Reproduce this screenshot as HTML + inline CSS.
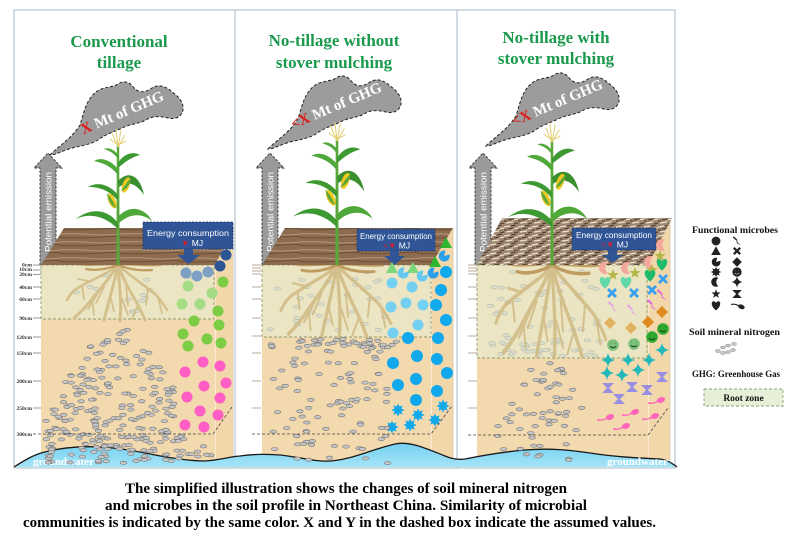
<!DOCTYPE html>
<html><head><meta charset="utf-8"><style>
html,body{margin:0;padding:0;background:#fff;}
svg{display:block;}
.ttl{font-family:"Liberation Serif",serif;font-weight:bold;font-size:17px;fill:#1b9a4d;text-anchor:middle;}
.ghg{font-family:"Liberation Serif",serif;font-weight:bold;font-size:15px;fill:#fff;}
.pe{font-family:"Liberation Sans",sans-serif;font-size:9px;fill:#fff;}
.en{font-family:"Liberation Sans",sans-serif;font-size:8.5px;fill:#fff;}
.dl{font-family:"Liberation Serif",serif;font-weight:bold;font-size:5.6px;fill:#333;text-anchor:end;}
.lg{font-family:"Liberation Serif",serif;font-weight:bold;font-size:9.5px;fill:#111;}
.cap{font-family:"Liberation Serif",serif;font-weight:bold;font-size:14.5px;fill:#000;}
.gw{font-family:"Liberation Serif",serif;font-weight:bold;font-size:11px;fill:#fff;}
</style></head><body>
<svg width="800" height="540" viewBox="0 0 800 540">
<defs>
<pattern id="wood" width="60" height="8" patternUnits="userSpaceOnUse">
<rect width="60" height="8" fill="#8c6b4e"/>
<path d="M0,2 Q15,1 30,2.5 T60,2" stroke="#ad8f70" stroke-width="1.2" fill="none"/>
<path d="M0,5.5 Q20,6.5 40,5 T60,5.5" stroke="#6c4f38" stroke-width="1" fill="none"/>
</pattern>
<pattern id="mulch" width="14" height="9" patternUnits="userSpaceOnUse">
<rect width="14" height="9" fill="#9d8772"/>
<path d="M0,2 L6,1 M8,4 L14,3 M2,7 L9,6" stroke="#eee2cc" stroke-width="1.2"/>
<path d="M4,4 L10,3 M0,5 L3,5 M10,8 L14,7 M7,1 L12,0" stroke="#4e3828" stroke-width="1"/>
</pattern>
<linearGradient id="water" x1="0" y1="0" x2="0" y2="1">
<stop offset="0" stop-color="#74d1f1"/><stop offset="1" stop-color="#a5e4f7"/>
</linearGradient>
<g id="cloud">
<path d="M50,155 C60,145 72,138 80,125 C84,112 86,100 96,92 C104,86 112,88 118,84 C124,80 130,82 134,88 C140,94 146,92 152,88 C158,84 166,86 172,92 C178,96 184,102 183,110 C182,116 176,120 168,118 C160,116 152,116 146,120 C138,124 130,124 122,128 C114,132 106,134 98,140 C88,146 76,146 66,150 C60,152 55,155 50,155 Z" fill="#9c9c9c" stroke="#222" stroke-width="1" stroke-dasharray="3 2"/>
</g>
<g id="parrow">
<polygon points="40,265 40,168 34,168 48,153 62,168 56,168 56,265" fill="#9a9a9a" stroke="#333" stroke-width="0.9" stroke-dasharray="2.5 1.5"/>
</g>
<g id="corn">
<path d="M-1.6,0 L-1.2,-120 L1.2,-120 L1.6,0Z" fill="#5aa83c"/>
<path d="M0,-118 L-6,-132 M0,-118 L-2,-136 M0,-118 L3,-135 M0,-118 L7,-130 M0,-120 L-8,-126 M0,-120 L8,-124" stroke="#e2cf74" stroke-width="1" fill="none"/>
<path d="M0,-42 C-12,-58 -30,-56 -42,-46 C-30,-52 -14,-50 0,-36 Z" fill="#3d9a32"/>
<path d="M0,-48 C12,-62 28,-56 34,-44 C24,-52 12,-52 1,-42 Z" fill="#4fa83a"/>
<path d="M0,-70 C-8,-80 -20,-84 -30,-78 C-20,-78 -10,-76 0,-64 Z" fill="#3d9a32"/>
<path d="M0,-84 C10,-95 22,-90 26,-70 C18,-82 10,-84 1,-78 Z" fill="#3a8f2e"/>
<path d="M0,-96 C-8,-106 -18,-108 -24,-104 C-16,-102 -8,-100 0,-90 Z" fill="#4fa83a"/>
<path d="M0,-102 C6,-112 16,-114 22,-110 C14,-108 8,-104 0,-97 Z" fill="#3d9a32"/>
<path d="M0,-110 C-4,-116 -10,-118 -14,-116 C-8,-114 -4,-112 0,-106Z" fill="#4fa83a"/>
<ellipse cx="-6" cy="-64" rx="3.5" ry="8" transform="rotate(-25 -6 -64)" fill="#f2c81e"/>
<path d="M-2,-57 C-8,-60 -10,-66 -11,-72 C-6,-66 -4,-62 -2,-57Z" fill="#5aa83c"/>
<ellipse cx="8" cy="-80" rx="3.5" ry="8" transform="rotate(20 8 -80)" fill="#f2c81e"/>
<path d="M3,-74 C9,-76 12,-80 13,-87 C8,-82 6,-78 3,-74Z" fill="#5aa83c"/>
</g>
<g id="roots" fill="none" stroke-linecap="round">
<g stroke="#d0ba84">
<path d="M0,0 C-6,10 -16,22 -26,34 C-32,42 -38,48 -44,53" stroke-width="3"/>
<path d="M0,0 C-3,15 -8,32 -14,55" stroke-width="3"/>
<path d="M0,0 C1,18 4,35 2,56" stroke-width="3"/>
<path d="M0,0 C5,14 12,26 20,40 C23,46 25,50 27,55" stroke-width="3"/>
<path d="M0,0 C8,8 24,18 38,30 C42,34 46,40 49,45" stroke-width="2.6"/>
<path d="M0,0 C-8,8 -26,14 -42,24 C-46,27 -49,31 -51,35" stroke-width="2.6"/>
<path d="M-26,34 L-24,50 M-14,22 L-22,38 M-8,30 L-4,46 M8,22 L10,40 M20,40 L14,54 M30,24 L28,40 M-36,20 L-34,34 M40,32 L44,48 M-20,28 L-30,44 M4,34 L10,50 M15,12 L24,20 M-30,16 L-40,14" stroke-width="1.8"/>
</g>
<g stroke="#b8914f" stroke-width="2.2">
<path d="M0,-1 C-14,-1 -28,1 -40,-1 M0,-1 C14,-1 28,1 42,0 M0,0 C-10,4 -22,6 -32,4 M0,0 C10,4 22,6 34,5"/>
</g>
</g>
<circle id="m-circ" r="5.5" fill="currentColor"/>
<circle id="m-circ6" r="6" fill="currentColor"/>
<polygon id="m-tri" points="0,-6 6,5 -6,5" fill="currentColor"/>
<path id="m-pac" d="M0,0 L5.5,-1.5 A5.5,5.5 0 1 1 1.5,-5.3 Z" fill="currentColor"/>
<polygon id="m-splat" points="6.5,0 3.51,1.45 4.6,4.6 1.45,3.51 0,6.5 -1.45,3.51 -4.6,4.6 -3.51,1.45 -6.5,0 -3.51,-1.45 -4.6,-4.6 -1.45,-3.51 0,-6.5 1.45,-3.51 4.6,-4.6 3.51,-1.45" fill="currentColor"/>
<path id="m-cres" d="M3,-5.2 A6,6 0 1 0 3,5.2 A6.5,6.5 0 0 1 3,-5.2 Z" fill="currentColor"/>
<polygon id="m-star" points="0,-6 1.47,-2.02 5.71,-1.85 2.38,0.77 3.53,4.85 0,2.5 -3.53,4.85 -2.38,0.77 -5.71,-1.85 -1.47,-2.02" fill="currentColor"/>
<path id="m-heart" d="M0,5.5 C-7,0 -6,-6 -3,-6 C-1.5,-6 0,-4.5 0,-3.5 C0,-4.5 1.5,-6 3,-6 C6,-6 7,0 0,5.5 Z" fill="currentColor"/>
<polygon id="m-bolt" points="-4,-6 1,-1 -1,0 5,6 -1,2 1,1 -5,-4" fill="currentColor"/>
<path id="m-cross" d="M-5,-3 L-3,-5 L0,-2 L3,-5 L5,-3 L2,0 L5,3 L3,5 L0,2 L-3,5 L-5,3 L-2,0 Z" fill="currentColor"/>
<polygon id="m-dia" points="0,-6 6,0 0,6 -6,0" fill="currentColor"/>
<g id="m-smile"><circle r="5.8" fill="currentColor"/><path d="M-2.5,-1.8 h0.4 M2.1,-1.8 h0.4 M-3,1.3 Q0,4 3,1.3" stroke="#1e4e1e" stroke-width="1.1" fill="none"/></g>
<path id="m-4star" d="M0,-7 Q1,-1 7,0 Q1,1 0,7 Q-1,1 -7,0 Q-1,-1 0,-7 Z" fill="currentColor"/>
<polygon id="m-hour" points="-6,-5 6,-5 1,0 6,5 -6,5 -1,0" fill="currentColor"/>
<g id="m-tad"><ellipse cx="3" cy="-1" rx="4.2" ry="2.8" transform="rotate(-20 3 -1)" fill="currentColor"/><path d="M0,0 Q-4,3 -10,2" stroke="currentColor" stroke-width="1.4" fill="none"/></g>
</defs>

<!-- frames -->
<rect x="14" y="10" width="221" height="458" fill="#fff" stroke="#a7b7c7" stroke-width="1"/>
<rect x="235" y="10" width="222" height="458" fill="#fff" stroke="#a7b7c7" stroke-width="1"/>
<rect x="457" y="10" width="218" height="458" fill="#fff" stroke="#a7b7c7" stroke-width="1"/>

<!-- titles -->
<text class="ttl" x="119" y="47">Conventional</text>
<text class="ttl" x="119" y="68">tillage</text>
<text class="ttl" x="334" y="46">No-tillage without</text>
<text class="ttl" x="334" y="68">stover mulching</text>
<text class="ttl" x="556" y="43">No-tillage with</text>
<text class="ttl" x="556" y="64">stover mulching</text>

<!-- clouds -->
<use href="#cloud"/>
<use href="#cloud" transform="translate(218,-6)"/>
<use href="#cloud" transform="translate(436,-9)"/>
<text class="ghg" transform="translate(124,117) rotate(-23)" text-anchor="middle"><tspan fill="#e01818">X</tspan> Mt of GHG</text>
<text class="ghg" transform="translate(338,110) rotate(-23)" text-anchor="middle"><tspan fill="#e01818">&lt;X</tspan> Mt of GHG</text>
<text class="ghg" transform="translate(559,107) rotate(-23)" text-anchor="middle"><tspan fill="#e01818">&lt;X</tspan> Mt of GHG</text>

<!-- emission arrows -->
<use href="#parrow"/>
<use href="#parrow" transform="translate(222,0)"/>
<use href="#parrow" transform="translate(435,0)"/>
<text class="pe" transform="translate(51.5,212) rotate(-90)" text-anchor="middle" textLength="80" lengthAdjust="spacingAndGlyphs">Potential emission</text>
<text class="pe" transform="translate(273.5,212) rotate(-90)" text-anchor="middle" textLength="80" lengthAdjust="spacingAndGlyphs">Potential emission</text>
<text class="pe" transform="translate(486.5,212) rotate(-90)" text-anchor="middle" textLength="80" lengthAdjust="spacingAndGlyphs">Potential emission</text>

<!-- soil side faces -->
<polygon points="215,265 233,230 233,462 215,462" fill="#f2d7aa"/>
<polygon points="431,265 453,228 453,460 431,460" fill="#f2d7aa"/>
<polygon points="648,265 670,220 670,460 648,460" fill="#f2d7aa"/>
<line x1="233" y1="230" x2="233" y2="462" stroke="#d8c6a8" stroke-width="0.8"/>
<line x1="453" y1="228" x2="453" y2="460" stroke="#d8c6a8" stroke-width="0.8"/>
<line x1="670" y1="220" x2="670" y2="460" stroke="#d8c6a8" stroke-width="0.8"/>
<!-- front faces -->
<rect x="41" y="265" width="174" height="200" fill="#f3d9ae"/>
<rect x="262" y="265" width="169" height="200" fill="#f3d9ae"/>
<rect x="477" y="265" width="171" height="200" fill="#f3d9ae"/>
<line x1="215.5" y1="265" x2="215.5" y2="462" stroke="#fbead0" stroke-width="1"/>
<line x1="431.5" y1="265" x2="431.5" y2="460" stroke="#fbead0" stroke-width="1"/>
<line x1="648.5" y1="265" x2="648.5" y2="460" stroke="#fbead0" stroke-width="1"/>

<g id="nlo"></g>

<!-- root zones -->
<g fill="#e6ecd0" fill-opacity="0.62" stroke="#8d9c6e" stroke-width="0.9" stroke-dasharray="3 2">
<rect x="41" y="265" width="173" height="54"/>
<rect x="262" y="265" width="169" height="72"/>
<rect x="477" y="265" width="170" height="93"/>
</g>

<!-- roots -->
<g opacity="0.85">
<use href="#roots" transform="translate(118,265)"/>
<use href="#roots" transform="translate(337,265) scale(1.1,1.3)"/>
<use href="#roots" transform="translate(552,265) scale(1.1,1.65)"/>
</g>

<!-- slabs -->
<polygon points="41,265 64,228 234,228 215,265" fill="url(#wood)"/>
<polygon points="262,265 285,228 453,228 431,265" fill="url(#wood)"/>
<polygon points="477,265 502,218 672,218 648,265" fill="url(#mulch)"/>

<!-- plants -->
<use href="#corn" transform="translate(118,265)"/>
<use href="#corn" transform="translate(337,265) scale(1.05)"/>
<use href="#corn" transform="translate(552,265) scale(1.04)"/>

<!-- energy boxes -->
<g fill="#2f5597" stroke="#1c3566" stroke-width="0.8" stroke-dasharray="2 1.5">
<rect x="143" y="222" width="90" height="27"/>
<rect x="357" y="229" width="78" height="22"/>
<rect x="572" y="228" width="84" height="22"/>
</g>
<g fill="#2f5597">
<path d="M184,249 L193,249 L193,255 L200,255 L188.5,264 L177,255 L184,255Z"/>
<path d="M390,251 L399,251 L399,256 L405,256 L394.5,265 L384,256 L390,256Z"/>
<path d="M608,250 L617,250 L617,255 L623,255 L612.5,263 L602,255 L608,255Z"/>
</g>
<text class="en" x="188" y="236" text-anchor="middle" textLength="82" lengthAdjust="spacingAndGlyphs">Energy consumption</text>
<text class="en" x="181" y="246"><tspan fill="#d42030">▼</tspan> MJ</text>
<text class="en" x="396" y="239" text-anchor="middle" textLength="72" lengthAdjust="spacingAndGlyphs">Energy consumption</text>
<text class="en" x="383" y="248.5"><tspan fill="#d42030">&lt;▼</tspan> MJ</text>
<text class="en" x="614" y="238" text-anchor="middle" textLength="76" lengthAdjust="spacingAndGlyphs">Energy consumption</text>
<text class="en" x="601" y="247.5"><tspan fill="#d42030">&lt;▼</tspan> MJ</text>

<!-- depth ticks panel 1 -->
<g stroke="#777" stroke-width="0.7">
<path d="M33,265H41 M33,270H41 M33,274.5H41 M33,287H41 M33,299H41 M33,318H41 M33,337H41 M33,353H41 M33,381H41 M33,408H41"/>
</g>
<g class="dl">
<text x="32" y="266.5" class="dl">0cm</text>
<text x="32" y="271.2" class="dl">10cm</text>
<text x="32" y="276" class="dl">20cm</text>
<text x="32" y="289" class="dl">40cm</text>
<text x="32" y="301" class="dl">60cm</text>
<text x="32" y="320" class="dl">90cm</text>
<text x="32" y="339" class="dl">120cm</text>
<text x="32" y="355" class="dl">150cm</text>
<text x="32" y="383" class="dl">200cm</text>
<text x="32" y="410" class="dl">250cm</text>
<text x="32" y="436" class="dl">300cm</text>
</g>
<g stroke="#b9a894" stroke-width="0.9">
<path d="M252,265H261 M252,268H261 M252,271H261 M252,274H261 M252,287H261 M252,299H261 M252,318H261 M252,336H261 M252,353H261 M252,381H261 M252,408H261"/>
<path d="M468,265H477 M468,268H477 M468,271H477 M468,274H477 M468,287H477 M468,299H477 M468,318H477 M468,336H477 M468,353H477 M468,381H477 M468,408H477"/>
</g>

<!-- microbes panel 1 -->
<g>
<use href="#m-circ" x="226" y="255" color="#2d5596"/>
<use href="#m-circ" x="220" y="266" color="#2d5596"/>
<use href="#m-circ" x="186" y="273" color="#7d9fc4"/>
<use href="#m-circ" x="197" y="276" color="#7d9fc4"/>
<use href="#m-circ" x="208" y="272" color="#7d9fc4"/>
<use href="#m-circ" x="188" y="286" color="#a6dc86"/>
<use href="#m-circ" x="212" y="293" color="#a6dc86"/>
<use href="#m-circ" x="182" y="304" color="#a6dc86"/>
<use href="#m-circ" x="200" y="304" color="#a6dc86"/>
<use href="#m-circ" x="223" y="282" color="#7ccc44"/>
<use href="#m-circ" x="218" y="311" color="#7ccc44"/>
<use href="#m-circ" x="219" y="325" color="#7ccc44"/>
<use href="#m-circ" x="221" y="343" color="#7ccc44"/>
<use href="#m-circ" x="194" y="321" color="#7ccc44"/>
<use href="#m-circ" x="183" y="334" color="#7ccc44"/>
<use href="#m-circ" x="188" y="346" color="#7ccc44"/>
<use href="#m-circ" x="207" y="339" color="#7ccc44"/>
<g color="#ff5fc5">
<use href="#m-circ" x="185" y="372"/><use href="#m-circ" x="203" y="362"/><use href="#m-circ" x="204" y="386"/><use href="#m-circ" x="187" y="397"/><use href="#m-circ" x="200" y="411"/><use href="#m-circ" x="185" y="425"/><use href="#m-circ" x="204" y="427"/><use href="#m-circ" x="220" y="366"/><use href="#m-circ" x="226" y="383"/><use href="#m-circ" x="220" y="398"/><use href="#m-circ" x="218" y="415"/>
</g>
</g>

<!-- microbes panel 2 -->
<g>
<use href="#m-tri" x="446" y="243" color="#2fb52f"/>
<use href="#m-tri" x="435" y="262" color="#2fb52f"/>
<use href="#m-tri" x="392" y="268" color="#7dd87d"/>
<use href="#m-tri" x="413" y="268" color="#7dd87d"/>
<use href="#m-pac" x="403" y="273" color="#66c8ee"/>
<use href="#m-pac" x="422" y="276" color="#66c8ee"/>
<use href="#m-pac" x="444" y="256" color="#2aa0e8"/>
<use href="#m-pac" x="433" y="273" color="#2aa0e8"/>
<g color="#74d0f0">
<use href="#m-circ" x="392" y="283"/><use href="#m-circ" x="412" y="287"/><use href="#m-circ" x="391" y="307"/><use href="#m-circ" x="406" y="303"/><use href="#m-circ" x="423" y="305"/><use href="#m-circ" x="418" y="325"/><use href="#m-circ" x="393" y="333"/>
</g>
<g color="#12a8ec">
<use href="#m-circ6" x="446" y="272"/><use href="#m-circ6" x="441" y="290"/><use href="#m-circ6" x="436" y="305"/><use href="#m-circ6" x="446" y="320"/><use href="#m-circ6" x="438" y="338"/><use href="#m-circ6" x="437" y="359"/><use href="#m-circ6" x="447" y="373"/><use href="#m-circ6" x="437" y="391"/><use href="#m-circ6" x="408" y="338"/><use href="#m-circ6" x="393" y="363"/><use href="#m-circ6" x="417" y="356"/><use href="#m-circ6" x="398" y="385"/><use href="#m-circ6" x="416" y="379"/><use href="#m-circ6" x="416" y="400"/>
<use href="#m-splat" x="398" y="410"/><use href="#m-splat" x="418" y="415"/><use href="#m-splat" x="392" y="427"/><use href="#m-splat" x="410" y="425"/><use href="#m-splat" x="443" y="406"/><use href="#m-splat" x="435" y="420"/>
</g>
</g>

<!-- microbes panel 3 -->
<g>
<g color="#f4a89c"><use href="#m-cres" x="605" y="268"/><use href="#m-cres" x="627" y="268"/><use href="#m-cres" x="662" y="245"/><use href="#m-cres" x="650" y="262"/></g>
<g color="#b5b54a"><use href="#m-star" x="613" y="275"/><use href="#m-star" x="635" y="273"/><use href="#m-star" x="660" y="256"/><use href="#m-star" x="652" y="270"/></g>
<use href="#m-heart" x="605" y="283" color="#60d8a8"/><use href="#m-heart" x="626" y="283" color="#60d8a8"/>
<use href="#m-heart" x="662" y="265" color="#1dbb6a"/><use href="#m-heart" x="650" y="276" color="#1dbb6a"/>
<g color="#39a0ee"><use href="#m-cross" x="612" y="293"/><use href="#m-cross" x="634" y="293"/><use href="#m-cross" x="663" y="279"/><use href="#m-cross" x="652" y="290"/></g>
<use href="#m-bolt" x="613" y="307" color="#e2a2f0"/><use href="#m-bolt" x="632" y="310" color="#e2a2f0"/>
<use href="#m-bolt" x="662" y="295" color="#e060e0"/><use href="#m-bolt" x="652" y="305" color="#e060e0"/>
<use href="#m-dia" x="610" y="323" color="#e2b262"/><use href="#m-dia" x="631" y="328" color="#e2b262"/>
<use href="#m-dia" x="662" y="312" color="#e08a20"/><use href="#m-dia" x="648" y="322" color="#e08a20"/>
<use href="#m-smile" x="613" y="345" color="#7cc07c"/><use href="#m-smile" x="634" y="344" color="#7cc07c"/>
<use href="#m-smile" x="663" y="329" color="#2ea82e"/><use href="#m-smile" x="652" y="337" color="#2ea82e"/>
<g color="#20b8b8"><use href="#m-4star" x="608" y="360"/><use href="#m-4star" x="628" y="360"/><use href="#m-4star" x="649" y="360"/><use href="#m-4star" x="638" y="370"/><use href="#m-4star" x="607" y="373"/><use href="#m-4star" x="622" y="375"/><use href="#m-4star" x="662" y="350"/></g>
<g color="#9a8ee0"><use href="#m-hour" x="608" y="388"/><use href="#m-hour" x="619" y="399"/><use href="#m-hour" x="632" y="387"/><use href="#m-hour" x="647" y="390"/><use href="#m-hour" x="662" y="377"/></g>
<g color="#ff66bb"><use href="#m-tad" x="658" y="401"/><use href="#m-tad" x="632" y="413"/><use href="#m-tad" x="652" y="417"/><use href="#m-tad" x="607" y="418"/><use href="#m-tad" x="623" y="427"/></g>
</g>

<!-- groundwater -->
<path d="M14,467 C25,460 35,454 45,452 C60,448 80,446 100,447 C120,448 135,451 150,454 C170,458 190,461 205,461 C220,460 228,457 240,456 C255,454 265,454 280,455 C300,457 315,462 330,461 C350,460 370,450 395,444 C410,441 425,448 445,456 C452,459 458,460 465,459 C480,456 500,452 525,450 C550,448 570,450 590,453 C615,457 640,458 660,459 C668,460 673,464 677,467 Z" fill="url(#water)"/>
<path d="M14,467 C25,460 35,454 45,452 C60,448 80,446 100,447 C120,448 135,451 150,454 C170,458 190,461 205,461 C220,460 228,457 240,456 C255,454 265,454 280,455 C300,457 315,462 330,461 C350,460 370,450 395,444 C410,441 425,448 445,456 C452,459 458,460 465,459 C480,456 500,452 525,450 C550,448 570,450 590,453 C615,457 640,458 660,459 C668,460 673,464 677,467" fill="none" stroke="#1a1a1a" stroke-width="1.3"/>
<text class="gw" x="33" y="465">groundwater</text>
<text class="gw" x="607" y="465">groundwater</text>

<g id="nhi"></g>

<!-- 300cm dashed lines -->
<g fill="none" stroke="#444" stroke-width="0.8" stroke-dasharray="3 2">
<path d="M33,434 L213,434 L232,407"/>
<path d="M252,434 L431,434 L452,406"/>
<path d="M468,435 L648,435 L668,408"/>
</g>

<!-- legend -->
<text class="lg" x="692" y="233" textLength="86" lengthAdjust="spacingAndGlyphs">Functional microbes</text>
<g color="#222">
<g transform="translate(716,241) scale(0.8)"><use href="#m-circ"/></g>
<g transform="translate(737,241) scale(0.8)"><use href="#m-bolt"/></g>
<g transform="translate(716,251) scale(0.8)"><use href="#m-tri"/></g>
<g transform="translate(737,251) scale(0.8)"><use href="#m-cross"/></g>
<g transform="translate(716,262) scale(0.8)"><use href="#m-pac"/></g>
<g transform="translate(737,262) scale(0.8)"><use href="#m-dia"/></g>
<g transform="translate(716,272) scale(0.8)"><use href="#m-splat"/></g>
<g transform="translate(737,272) scale(0.8)"><circle r="5.8" fill="#222"/><path d="M-2.5,-1.8 h0.4 M2.1,-1.8 h0.4 M-3,1.3 Q0,4 3,1.3" stroke="#aaa" stroke-width="1" fill="none"/></g>
<g transform="translate(716,282) scale(0.8)"><use href="#m-cres"/></g>
<g transform="translate(737,282) scale(0.8)"><use href="#m-4star"/></g>
<g transform="translate(716,294) scale(0.8)"><use href="#m-star"/></g>
<g transform="translate(737,294) scale(0.8)"><use href="#m-hour"/></g>
<g transform="translate(716,306) scale(0.8)"><use href="#m-heart"/></g>
<g transform="translate(739,306) scale(0.8,-0.8)"><use href="#m-tad"/></g>
</g>
<text class="lg" x="689" y="335" textLength="91" lengthAdjust="spacingAndGlyphs">Soil mineral nitrogen</text>
<g fill="#c8c8c8" stroke="#777" stroke-width="0.5">
<ellipse cx="718" cy="351" rx="2.4" ry="1.4"/><ellipse cx="723" cy="353" rx="2.4" ry="1.4"/><ellipse cx="728" cy="352" rx="2.4" ry="1.4"/><ellipse cx="733" cy="350" rx="2.4" ry="1.4"/><ellipse cx="723" cy="347.5" rx="2.4" ry="1.4"/><ellipse cx="728" cy="345.5" rx="2.4" ry="1.4"/><ellipse cx="734" cy="344" rx="2.4" ry="1.4"/>
</g>
<text class="lg" x="692" y="377" textLength="88" lengthAdjust="spacingAndGlyphs">GHG: Greenhouse Gas</text>
<rect x="704" y="389" width="79" height="17" fill="#e6f0d8" stroke="#8aa070" stroke-width="0.9" stroke-dasharray="3 2"/>
<text class="lg" x="743.5" y="401" text-anchor="middle" font-size="10">Root zone</text>

<!-- caption -->
<text class="cap" x="125" y="493" textLength="442" lengthAdjust="spacingAndGlyphs">The simplified illustration shows the changes of  soil mineral nitrogen</text>
<text class="cap" x="105" y="510" textLength="482" lengthAdjust="spacingAndGlyphs">and microbes  in the soil profile in Northeast China. Similarity of microbial</text>
<text class="cap" x="23" y="527" textLength="633" lengthAdjust="spacingAndGlyphs">communities is indicated by the same color. X and Y in the dashed box indicate the assumed values.</text>
</svg>
<script>
(function(){
var s=20240611;
function r(){s=(s*1664525+1013904223)%4294967296;return s/4294967296;}
var svg=document.querySelector('svg');var NS=svg.namespaceURI;
var lo=document.getElementById('nlo'),hi=document.getElementById('nhi');
function dot(g,x,y){var e=document.createElementNS(NS,'ellipse');
e.setAttribute('cx',x.toFixed(1));e.setAttribute('cy',y.toFixed(1));
e.setAttribute('rx','3.3');e.setAttribute('ry','1.6');
e.setAttribute('fill','#c6c6c6');e.setAttribute('stroke','#6e6e6e');e.setAttribute('stroke-width','0.6');
g.appendChild(e);}
function U(a,b){return a+(b-a)*r();}
var i,x,y,hw;
/* panel 1 */
for(i=0;i<14;i++)dot(lo,U(55,200),U(271,316));
for(i=0;i<270;i++){y=325+138*Math.sqrt(r());hw=18+(y-325)*0.6;x=118+(2*r()-1)*hw;
 if(x<46)x=46+r()*6;if(x>211)x=211-r()*6;
 if(y<432&&x>176)continue;dot(hi,x,y);}
/* panel 2 */
for(i=0;i<30;i++)dot(lo,U(268,385),U(271,333));
for(i=0;i<45;i++)dot(hi,U(270,398),U(339,352));
for(i=0;i<75;i++){x=U(272,388);y=U(356,452);dot(hi,x,y);}
for(i=0;i<5;i++)dot(hi,U(290,390),U(456,465));
/* panel 3 */
for(i=0;i<40;i++)dot(lo,U(488,598),U(271,352));
for(i=0;i<30;i++)dot(lo,U(490,600),U(338,356));
for(i=0;i<55;i++){y=U(362,452);hw=14+(y-362)*0.55;x=545+(2*r()-1)*hw;dot(hi,x,y);}
for(i=0;i<5;i++)dot(hi,U(520,580),U(453,466));
})();
</script>
</body></html>
